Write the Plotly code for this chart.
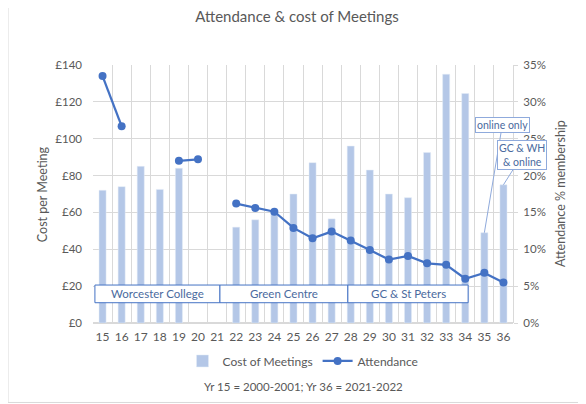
import plotly.graph_objects as go

years = list(range(15, 37))
cost = [72, 74, 85, 72.5, 84, None, None, 52, 56, 61, 70, 87, 56.5, 96, 83, 70, 68, 92.5, 135, 124.5, 49, 75]
attendance = [0.335, 0.267, None, None, 0.220, 0.222, None, 0.162, 0.156, 0.151, 0.129, 0.115, 0.124,
              0.112, 0.099, 0.086, 0.091, 0.081, 0.079, 0.060, 0.068, 0.055]

venue_names = ["Worcester College", "Green Centre", "GC & St Peters"]
venue_from = [14.6, 21.15, 27.85]
venue_to = [21.15, 27.85, 34.15]

FONT = "Lato"
GREY = "#595959"
GRID = "#d9d9d9"
BAR = "#b4c7e7"
LINE = "#4472c4"
NOTE = "#4a6a9e"

W, H = 578, 396

fig = go.Figure()
fig.add_trace(go.Bar(x=years, y=cost, name="Cost of Meetings", marker_color=BAR,
                     width=0.37, yaxis="y"))
fig.add_trace(go.Scatter(x=years, y=attendance, name="Attendance", mode="lines+markers",
                         line=dict(color=LINE, width=2.25), marker=dict(size=8, color=LINE),
                         connectgaps=False, yaxis="y2"))
# invisible helper trace on the boundary-grid axis
fig.add_trace(go.Scatter(x=[years[0] - 0.5, years[-1] + 0.5], y=[None, None], xaxis="x2",
                         showlegend=False, hoverinfo="skip"))

shapes = []
annotations = []
for name, a, b in zip(venue_names, venue_from, venue_to):
    shapes.append(dict(type="rect", xref="x", yref="y", x0=a, x1=b, y0=11, y1=20.6,
                       line=dict(color=LINE, width=1), fillcolor="white", layer="above"))
    annotations.append(dict(x=(a + b) / 2, y=15.8, xref="x", yref="y", text=name, showarrow=False,
                            font=dict(family=FONT, size=11.5, color=NOTE)))

# callouts
annotations.append(dict(x=years[20], y=cost[20], xref="x", yref="y", text="online only",
                        showarrow=True, arrowhead=0, arrowcolor="#8faadc", arrowwidth=1,
                        ax=18, ay=-108, bordercolor="#8faadc", borderwidth=1, bgcolor="white",
                        borderpad=1, font=dict(family=FONT, size=10.5, color=NOTE)))
annotations.append(dict(x=years[21], y=cost[21], xref="x", yref="y", text="GC & WH<br>& online",
                        showarrow=True, arrowhead=0, arrowcolor="#8faadc", arrowwidth=1,
                        ax=19, ay=-30, bordercolor="#8faadc", borderwidth=1, bgcolor="white",
                        borderpad=1, font=dict(family=FONT, size=10.5, color=NOTE)))

# axis titles & footer
annotations.append(dict(x=-0.121, y=0.5, xref="paper", yref="paper", text="Cost per Meeting",
                        xanchor="center", yanchor="middle",
                        textangle=-90, showarrow=False, font=dict(family=FONT, size=12.5, color=GREY)))
annotations.append(dict(x=1.112, y=0.5, xref="paper", yref="paper", text="Attendance % membership",
                        xanchor="center", yanchor="middle",
                        textangle=-90, showarrow=False, font=dict(family=FONT, size=12.5, color=GREY)))
annotations.append(dict(x=0.5, y=-0.245, xref="paper", yref="paper", text="Yr 15 = 2000-2001; Yr 36 = 2021-2022",
                        xanchor="center", yanchor="middle",
                        showarrow=False, font=dict(family=FONT, size=11.5, color=GREY)))

# chart border
shapes.append(dict(type="rect", xref="paper", yref="paper", x0=-0.2024, x1=1.171, y0=-0.308, y1=1.2326,
                   line=dict(color="#d9d9d9", width=1), fillcolor="rgba(0,0,0,0)", layer="below"))

boundaries = [y - 0.5 for y in years] + [years[-1] + 0.5]

fig.update_layout(
    width=W, height=H,
    margin=dict(l=85, r=W - 505, t=57, b=H - 315),
    paper_bgcolor="white", plot_bgcolor="white",
    font=dict(family=FONT, color=GREY, size=11.5),
    title=dict(text="Attendance & cost of Meetings", x=0.5, xanchor="center", y=1 - 9 / H,
               yanchor="middle", font=dict(family=FONT, size=15, color=GREY)),
    xaxis=dict(range=[14.5, 36.5], tickmode="array", tickvals=years, ticktext=[str(v) for v in years],
               showgrid=False, ticks="", showline=False, zeroline=False, ticklabelstandoff=5,
               tickfont=dict(family=FONT, size=12, color=GREY)),
    xaxis2=dict(range=[14.5, 36.5], overlaying="x", tickmode="array", tickvals=boundaries,
                showticklabels=False, showgrid=True, gridcolor=GRID, gridwidth=1, ticks="",
                zeroline=False, showline=False),
    yaxis=dict(range=[0, 140], dtick=20, tickprefix="£", showgrid=True, gridcolor=GRID,
               zeroline=True, zerolinecolor=GRID, showline=False, ticks="",
               tickfont=dict(family=FONT, size=11.5, color=GREY), ticklabelstandoff=10),
    yaxis2=dict(range=[0, 0.35], dtick=0.05, tickformat=".0%", overlaying="y", side="right",
                showgrid=False, zeroline=False, showline=True, linecolor=GRID, ticks="outside",
                ticklen=4, tickcolor=GRID, ticklabelstandoff=3,
                tickfont=dict(family=FONT, size=11.5, color=GREY)),
    legend=dict(orientation="h", x=0.5, xanchor="center", y=-0.147, yanchor="middle",
                font=dict(family=FONT, size=12, color=GREY), itemwidth=30, bgcolor="rgba(0,0,0,0)"),
    shapes=shapes, annotations=annotations,
    bargap=0.6,
)

fig.write_html("out.html")
